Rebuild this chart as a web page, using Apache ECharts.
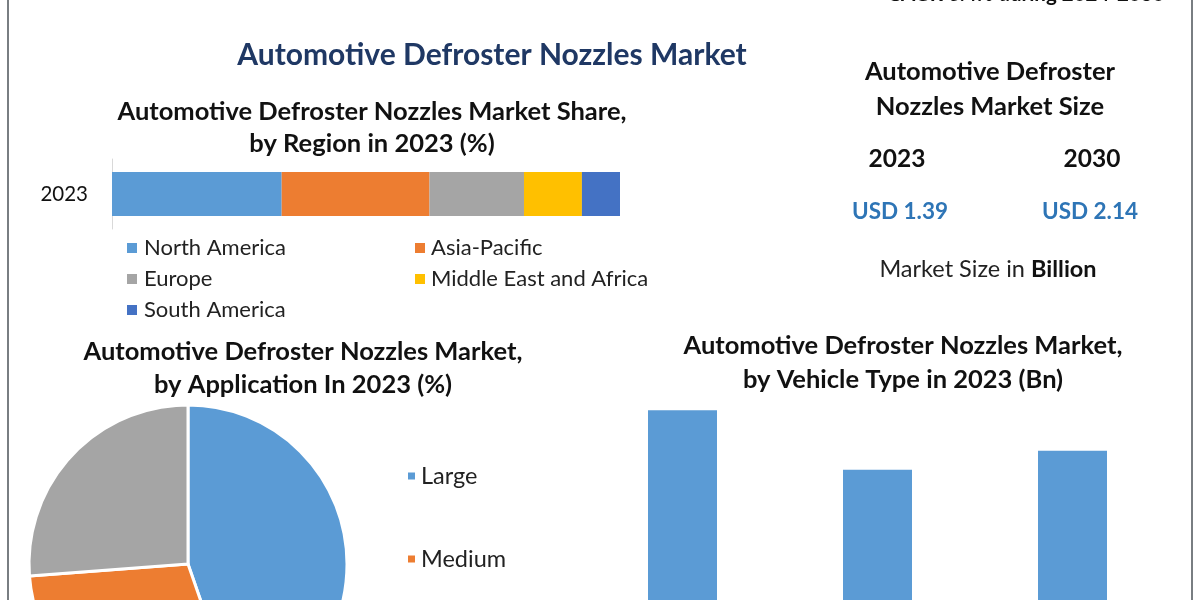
<!DOCTYPE html>
<html>
<head>
<meta charset="utf-8">
<script src="https://cdn.jsdelivr.net/npm/echarts@6/dist/echarts.min.js"></script>
<style>
html,body{margin:0;padding:0;background:#fff;}
#c{width:1200px;height:600px;}
</style>
</head>
<body>
<div id="c"></div>
<script>
// Regional share 2023 (%)
const regionNames = ['North America', 'Asia-Pacific', 'Europe', 'Middle East and Africa', 'South America'];
const regionShares = [33.4, 29.1, 18.6, 11.4, 7.5];
const regionColors = ['#5B9BD5', '#ED7D31', '#A5A5A5', '#FFC000', '#4472C4'];
const shareYear = ['2023'];

// Application share 2023 (%)
const appNames = ['Large', 'Medium', 'Small'];
const appShares = [44.7, 29.1, 26.2];
const appColors = ['#5B9BD5', '#ED7D31', '#A5A5A5'];

// Vehicle type 2023 (Bn)
const vehicleTypes = ['Passenger Cars', 'Light Commercial Vehicles', 'Heavy Commercial Vehicles'];
const vehicleValues = [0.55, 0.44, 0.475];

// Market size
const sizeYears = ['2023', '2030'];
const sizeValues = ['USD 1.39', 'USD 2.14'];

const FONT = 'Lato';
const chart = echarts.init(document.getElementById('c'), null, {renderer: 'canvas'});

const barSeries = regionNames.map((n, i) => ({
  name: n, type: 'bar', stack: 'r', xAxisIndex: 0, yAxisIndex: 0,
  barWidth: 44, itemStyle: {color: regionColors[i]},
  data: [regionShares[i]], silent: true
}));

function txt(x, y, text, size, opts) {
  return {
    type: 'text', x: x, y: y,
    style: Object.assign({text: text, fontFamily: FONT, fontSize: size, fontWeight: 'bold', fill: '#111',
      align: 'center', verticalAlign: 'middle'}, opts || {})
  };
}

chart.setOption({
  animation: false,
  backgroundColor: '#fff',
  grid: [
    {left: 112, top: 159, width: 508, height: 70, containLabel: false},
    {left: 585, top: 383, width: 585, height: 217, containLabel: false}
  ],
  xAxis: [
    {gridIndex: 0, type: 'value', min: 0, max: 100, show: false},
    {gridIndex: 1, type: 'category', data: vehicleTypes, axisLine: {show: false}, axisTick: {show: false}, axisLabel: {show: false}}
  ],
  yAxis: [
    {gridIndex: 0, type: 'category', data: shareYear,
      axisLine: {show: true, lineStyle: {color: '#D9D9D9', width: 1}}, axisTick: {show: false},
      axisLabel: {margin: 24, fontFamily: FONT, fontSize: 20.5, color: '#111'}},
    // only the upper part of the value range is visible in the picture
    {gridIndex: 1, type: 'value', min: 0.2, max: 0.6, show: false}
  ],
  legend: [
    {data: [regionNames[0], regionNames[2], regionNames[4]], orient: 'vertical', left: 122, top: 232,
      itemWidth: 10, itemHeight: 10, itemGap: 9, icon: 'rect', selectedMode: false,
      textStyle: {fontFamily: FONT, fontSize: 22, color: '#222', padding: [0, 0, 0, 2]}},
    {data: [regionNames[1], regionNames[3]], orient: 'vertical', left: 410, top: 232,
      itemWidth: 10, itemHeight: 10, itemGap: 9, icon: 'rect', selectedMode: false,
      textStyle: {fontFamily: FONT, fontSize: 22, color: '#222', padding: [0, 0, 0, 1]}},
    {data: appNames.slice(0, 2), orient: 'vertical', left: 401, top: 459,
      itemWidth: 9, itemHeight: 9, itemGap: 59, icon: 'rect', selectedMode: false,
      textStyle: {fontFamily: FONT, fontSize: 23.5, color: '#222'}}
  ],
  series: barSeries.concat([
    {
      name: 'Application', type: 'pie', center: [188, 564], radius: 159,
      startAngle: 90, clockwise: true, silent: true,
      label: {show: false}, labelLine: {show: false},
      itemStyle: {borderColor: '#fff', borderWidth: 3},
      data: appNames.map((n, i) => ({name: n, value: appShares[i], itemStyle: {color: appColors[i]}}))
    },
    {
      name: 'Vehicle', type: 'bar', xAxisIndex: 1, yAxisIndex: 1, barWidth: 69, silent: true,
      itemStyle: {color: '#5B9BD5'}, data: vehicleValues
    }
  ]),
  graphic: [
    {type: 'line', shape: {x1: 8, y1: 0, x2: 8, y2: 600}, style: {stroke: '#4d5358', lineWidth: 1.5}},
    {type: 'line', shape: {x1: 1192, y1: 0, x2: 1192, y2: 600}, style: {stroke: '#4d5358', lineWidth: 1.5}},
    txt(1026, -6, 'CAGR 6.4% during 2024-2030', 20.5, {fill: '#111'}),
    txt(492, 55, 'Automotive Defroster Nozzles Market', 30, {fill: '#1F3864'}),
    txt(372, 112, 'Automotive Defroster Nozzles Market Share,', 25.5),
    txt(372, 144, 'by Region in 2023 (%)', 25.5),
    txt(990, 72, 'Automotive Defroster', 25.5),
    txt(990, 107, 'Nozzles Market Size', 25.5),
    txt(897, 159, sizeYears[0], 24.5),
    txt(1092, 159, sizeYears[1], 24.5),
    txt(900, 212, sizeValues[0], 22.5, {fill: '#2E75B6'}),
    txt(1090, 212, sizeValues[1], 22.5, {fill: '#2E75B6'}),
    {type: 'text', x: 988, y: 269, style: {
      text: '{n|Market Size in }{b|Billion}', align: 'center', verticalAlign: 'middle',
      rich: {n: {fontFamily: FONT, fontSize: 23.5, fill: '#222', fontWeight: 'normal'},
             b: {fontFamily: FONT, fontSize: 23.5, fill: '#111', fontWeight: 'bold'}}
    }},
    txt(303, 352, 'Automotive Defroster Nozzles Market,', 25.5),
    txt(303, 385, 'by Application In 2023 (%)', 25.5),
    txt(903, 346, 'Automotive Defroster Nozzles Market,', 25.5),
    txt(903, 380, 'by Vehicle Type in 2023 (Bn)', 25.5)
  ]
});
</script>
</body>
</html>
